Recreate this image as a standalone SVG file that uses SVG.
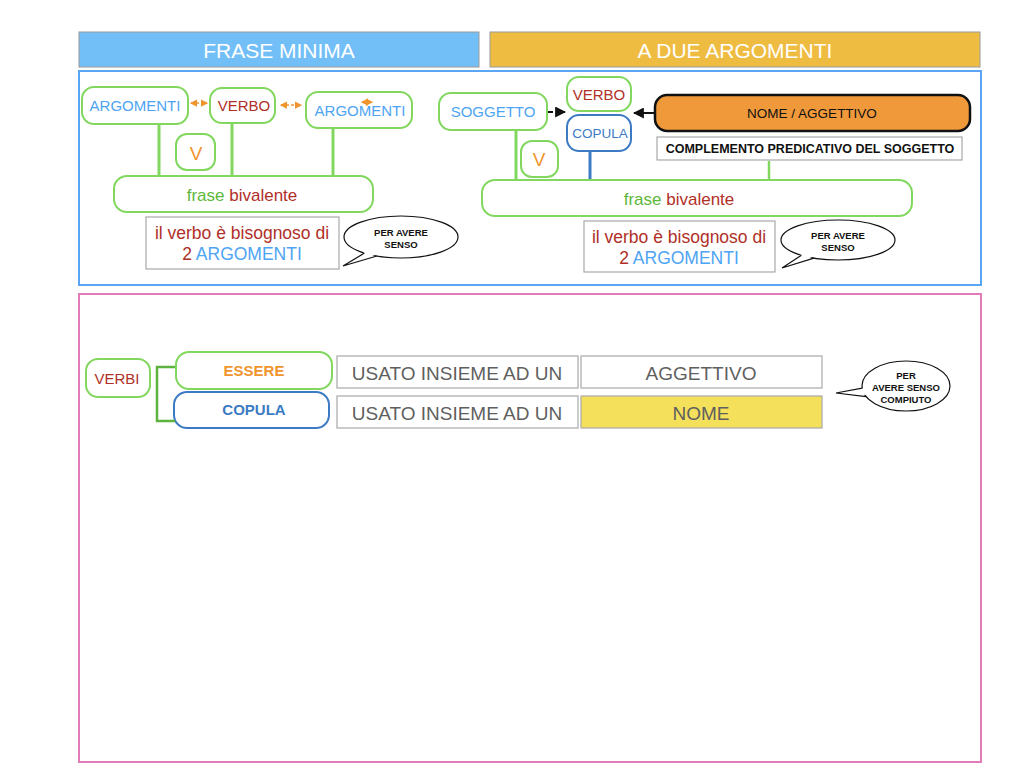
<svg xmlns="http://www.w3.org/2000/svg" width="1024" height="768" viewBox="0 0 1024 768">
<defs>
<style>
text{font-family:"Liberation Sans",Arial,sans-serif;text-anchor:middle;dominant-baseline:central}
.gbox{fill:#fff;stroke:#82D85E;stroke-width:2}
.bbox{fill:#fff;stroke:#3C7BC4;stroke-width:2}
.gray{fill:#fff;stroke:#A8A8A8;stroke-width:1.2}
.gl{stroke:#82D85E;stroke-width:3;fill:none}
.red{fill:#B03028}
.blue{fill:#4EA4F4}
.grn{fill:#5DB83A}
.org{fill:#F0952E}
.bub{fill:#fff;stroke:#111;stroke-width:1.2}
.bt{font-size:9.5px;font-weight:bold;fill:#111}
.usa{font-size:19px;fill:#5F5F5F}
.oda{stroke:#F0952E;stroke-width:1.5;stroke-dasharray:3 2;fill:none}
</style>
<marker id="oh" viewBox="0 0 6 6" refX="5" refY="3" markerWidth="5" markerHeight="5" orient="auto-start-reverse"><path d="M0,0L6,3L0,6z" fill="#F0952E"/></marker>
<marker id="bh" viewBox="0 0 10 10" refX="9" refY="5" markerWidth="11" markerHeight="11" markerUnits="userSpaceOnUse" orient="auto"><path d="M0,0L10,5L0,10z" fill="#111"/></marker>
</defs>
<rect width="1024" height="768" fill="#fff"/>

<g id="title-frase-minima">
<rect x="79" y="32" width="400" height="35" fill="#72BFF8" stroke="#9A9A9A" stroke-width="1"/>
<text x="279" y="50" font-size="21" fill="#fff">FRASE MINIMA</text>
</g>
<g id="title-a-due-argomenti">
<rect x="490" y="32" width="490" height="35" fill="#EFBC42" stroke="#9A9A9A" stroke-width="1"/>
<text x="735" y="50" font-size="21" fill="#fff">A DUE ARGOMENTI</text>
</g>

<g id="frame-top"><rect x="79" y="71" width="902" height="214" fill="none" stroke="#5BA6F2" stroke-width="2"/></g>
<g id="frame-bottom"><rect x="79" y="294" width="902" height="468" fill="none" stroke="#E27BB8" stroke-width="2"/></g>

<g id="argomenti-1"><rect class="gbox" x="82" y="87" width="106" height="37" rx="12"/><text class="blue" x="135" y="105" font-size="15">ARGOMENTI</text></g>
<g id="verbo-1"><rect class="gbox" x="210" y="88" width="65" height="35" rx="12"/><text class="red" x="244" y="105" font-size="15">VERBO</text></g>
<g id="argomenti-2"><rect class="gbox" x="306" y="92" width="106" height="36" rx="12"/><text class="blue" x="360" y="110" font-size="15">ARGOMENTI</text></g>
<g id="v-1"><rect class="gbox" x="176" y="134" width="39" height="36" rx="11"/><text class="org" x="196" y="153" font-size="19">V</text></g>
<g id="frase-bivalente-1"><rect class="gbox" x="114" y="176" width="259" height="36" rx="13"/><text x="242" y="195" font-size="17"><tspan class="grn">frase </tspan><tspan class="red">bivalente</tspan></text></g>
<g id="note-1"><rect class="gray" x="146" y="217" width="193" height="52"/><text class="red" x="242" y="233" font-size="17.5">il verbo è bisognoso di</text><text x="242" y="254" font-size="17.5"><tspan class="red">2 </tspan><tspan class="blue">ARGOMENTI</tspan></text></g>
<g id="bubble-1">
<ellipse class="bub" cx="401" cy="237" rx="57" ry="21"/>
<polygon points="366,251 343,266 378,254" fill="#fff"/>
<polyline points="364.4,253.1 343,266 376.9,256" fill="none" stroke="#111" stroke-width="1.2"/>
<text class="bt" x="401" y="232">PER AVERE</text><text class="bt" x="401" y="244">SENSO</text>
</g>

<g id="soggetto"><rect class="gbox" x="439" y="93" width="108" height="37" rx="12"/><text class="blue" x="493" y="111" font-size="15">SOGGETTO</text></g>
<g id="verbo-2"><rect class="gbox" x="567" y="77" width="64" height="34" rx="12"/><text class="red" x="599" y="94" font-size="15">VERBO</text></g>
<g id="copula-1"><rect class="bbox" x="567" y="115" width="64" height="36" rx="12"/><text x="600" y="133" font-size="13.5" fill="#3C7BC4">COPULA</text></g>
<g id="nome-aggettivo"><rect x="655" y="95" width="315" height="36" rx="12" fill="#F0993B" stroke="#111" stroke-width="2.5"/><text x="812" y="113" font-size="13.5" fill="#111">NOME / AGGETTIVO</text></g>
<g id="complemento"><rect class="gray" x="657" y="137" width="305" height="23"/><text x="810" y="148.5" font-size="12.5" font-weight="bold" fill="#111">COMPLEMENTO PREDICATIVO DEL SOGGETTO</text></g>
<g id="v-2"><rect class="gbox" x="521" y="141" width="37" height="36" rx="11"/><text class="org" x="539" y="159" font-size="19">V</text></g>
<g id="frase-bivalente-2"><rect class="gbox" x="482" y="180" width="430" height="36" rx="13"/><text x="679" y="199" font-size="17"><tspan class="grn">frase </tspan><tspan class="red">bivalente</tspan></text></g>
<g id="note-2"><rect class="gray" x="584" y="221" width="191" height="51"/><text class="red" x="679" y="237" font-size="17.5">il verbo è bisognoso di</text><text x="679" y="258" font-size="17.5"><tspan class="red">2 </tspan><tspan class="blue">ARGOMENTI</tspan></text></g>
<g id="bubble-2">
<ellipse class="bub" cx="838" cy="240" rx="57" ry="20"/>
<polygon points="803,253 782,268 815,256" fill="#fff"/>
<polyline points="801.4,255.3 782,268 813.9,258.1" fill="none" stroke="#111" stroke-width="1.2"/>
<text class="bt" x="838" y="235">PER AVERE</text><text class="bt" x="838" y="247">SENSO</text>
</g>

<g id="verbi"><rect class="gbox" x="86" y="359" width="64" height="38" rx="12"/><text class="red" x="117" y="378" font-size="15">VERBI</text></g>
<g id="essere"><rect class="gbox" x="176" y="352" width="156" height="37" rx="13"/><text x="254" y="370" font-size="15" font-weight="bold" fill="#F0952E">ESSERE</text></g>
<g id="copula-2"><rect class="bbox" x="174" y="392" width="155" height="36" rx="13"/><text x="254" y="409" font-size="15" font-weight="bold" fill="#3C7BC4">COPULA</text></g>
<g id="usato-1"><rect class="gray" x="337" y="356" width="241" height="32"/><text class="usa" x="457" y="373">USATO INSIEME AD UN</text></g>
<g id="usato-2"><rect class="gray" x="337" y="396" width="241" height="32"/><text class="usa" x="457" y="413">USATO INSIEME AD UN</text></g>
<g id="aggettivo"><rect class="gray" x="581" y="356" width="241" height="32"/><text class="usa" x="701" y="373">AGGETTIVO</text></g>
<g id="nome"><rect x="581" y="396" width="241" height="32" fill="#F5E05C" stroke="#A8A8A8" stroke-width="1.2"/><text class="usa" x="701" y="413">NOME</text></g>
<g id="bubble-3">
<ellipse class="bub" cx="906" cy="386" rx="44" ry="25"/>
<polygon points="864,388 836,393 867,395" fill="#fff"/>
<polyline points="862.2,388.2 836,393 866.1,396.6" fill="none" stroke="#111" stroke-width="1.2"/>
<text class="bt" x="906" y="375">PER</text><text class="bt" x="906" y="387">AVERE SENSO</text><text class="bt" x="906" y="399">COMPIUTO</text>
</g>

<g id="connectors">
<line class="gl" x1="159" y1="125" x2="159" y2="175"/>
<line class="gl" x1="232" y1="124" x2="232" y2="175"/>
<line class="gl" x1="333" y1="129" x2="333" y2="175"/>
<line class="oda" x1="191" y1="103" x2="207" y2="103" marker-start="url(#oh)" marker-end="url(#oh)"/>
<line class="oda" x1="281" y1="105" x2="301" y2="105" marker-start="url(#oh)" marker-end="url(#oh)"/>
<line class="oda" x1="362" y1="102" x2="372" y2="102" marker-start="url(#oh)" marker-end="url(#oh)"/>
<line class="gl" x1="516" y1="131" x2="516" y2="179"/>
<line x1="590" y1="152" x2="590" y2="179" stroke="#3C7BC4" stroke-width="3"/>
<line x1="769" y1="161" x2="769" y2="179" stroke="#82D85E" stroke-width="2.5"/>
<line x1="548" y1="112" x2="565" y2="112" stroke="#111" stroke-width="2" stroke-dasharray="5 3" marker-end="url(#bh)"/>
<line x1="654" y1="113" x2="634" y2="113" stroke="#111" stroke-width="2" marker-end="url(#bh)"/>
<path d="M175,367H157V421H175" stroke="#5DB33D" stroke-width="2.5" fill="none"/>
</g>
</svg>
